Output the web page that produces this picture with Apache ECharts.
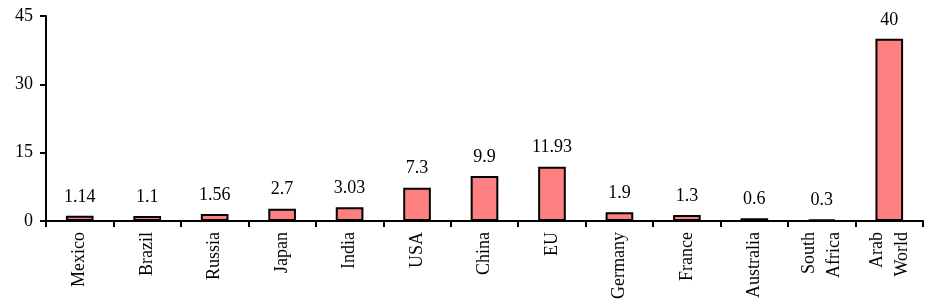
<!DOCTYPE html>
<html><head><meta charset="utf-8">
<script src="https://cdn.jsdelivr.net/npm/echarts@6/dist/echarts.min.js"></script>
<style>html,body{margin:0;padding:0;background:#fff}#c{width:929px;height:305px}</style>
</head><body><div id="c"></div>
<script>
const categories = ["Mexico","Brazil","Russia","Japan","India","USA","China","EU","Germany","France","Australia","South\nAfrica","Arab\nWorld"];
const values = [1.14,1.1,1.56,2.7,3.03,7.3,9.9,11.93,1.9,1.3,0.6,0.3,40];
const yTicks = [0,15,30,45];
const font = "'Liberation Serif','Times New Roman',serif";
const chart = echarts.init(document.getElementById('c'));
chart.setOption({
  animation:false,
  grid:{left:46,right:6,top:16,bottom:84,containLabel:false},
  xAxis:{type:'category',data:categories,
    axisLine:{lineStyle:{color:'#000',width:2}},
    axisTick:{show:true,length:6,lineStyle:{color:'#000',width:2},alignWithLabel:false},
    axisLabel:{rotate:90,interval:0,margin:11,color:'#000',fontFamily:font,fontSize:18,lineHeight:25}},
  yAxis:{type:'value',min:yTicks[0],max:yTicks[yTicks.length-1],interval:15,
    splitLine:{show:false},
    axisLine:{show:true,lineStyle:{color:'#000',width:2}},
    axisTick:{show:true,length:6,lineStyle:{color:'#000',width:2}},
    axisLabel:{color:'#000',fontFamily:font,fontSize:18,margin:13}},
  series:[{type:'bar',data:values,barWidth:'41%',
    itemStyle:{color:'#FF8080',borderColor:'#000',borderWidth:2},
    label:{show:true,position:'top',distance:10,color:'#000',fontFamily:font,fontSize:18}}]
});
</script></body></html>
